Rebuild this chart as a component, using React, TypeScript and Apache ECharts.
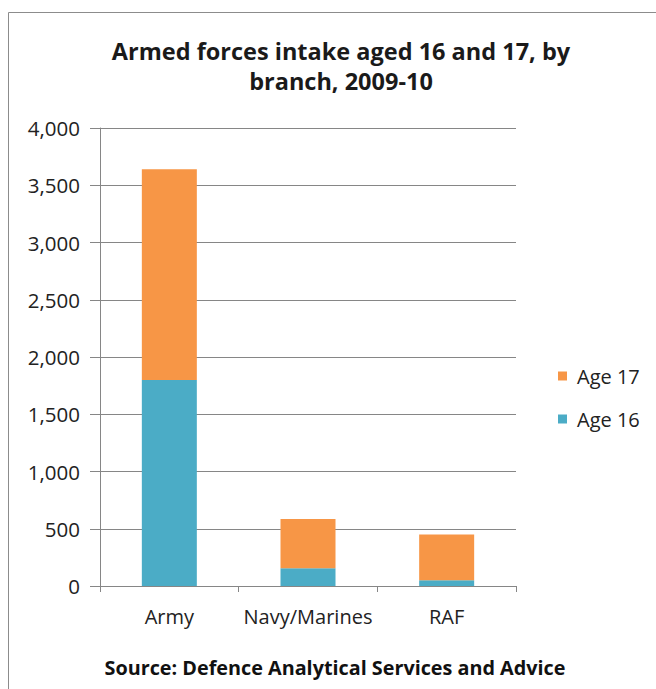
import React, { useEffect, useRef } from "react";
import * as echarts from "echarts";

const branches = ["Army", "Navy/Marines", "RAF"];
const age16 = [1800, 155, 50];
const age17 = [1840, 430, 400];
const yTicks = [0, 500, 1000, 1500, 2000, 2500, 3000, 3500, 4000];

const FONT = "'Open Sans', 'Noto Sans', sans-serif";

export default function App() {
  const ref = useRef<HTMLDivElement>(null);

  useEffect(() => {
    if (!ref.current) return;
    const chart = echarts.init(ref.current, null, { renderer: "svg" });
    chart.setOption({
      animation: false,
      backgroundColor: "#ffffff",
      textStyle: { fontFamily: FONT },
      title: {
        text: "Armed forces intake aged 16 and 17, by\nbranch, 2009-10",
        left: 336,
        top: 31,
        textAlign: "center",
        textStyle: {
          fontFamily: FONT,
          fontSize: 23.5,
          fontWeight: "bold",
          color: "#1a1a1a",
          lineHeight: 30,
        },
      },
      legend: {
        orient: "vertical",
        left: 553,
        top: 361,
        itemWidth: 9,
        itemHeight: 9,
        itemGap: 23,
        icon: "rect",
        data: ["Age 17", "Age 16"],
        textStyle: {
          fontFamily: FONT,
          fontSize: 20,
          lineHeight: 20,
          color: "#222",
          padding: [0, 0, 0, 5],
        },
      },
      grid: { left: 100, right: 140, top: 128, bottom: 103 },
      xAxis: {
        type: "category",
        data: branches,
        axisLine: { lineStyle: { color: "#868686", width: 1 } },
        axisTick: { show: true, length: 6, lineStyle: { color: "#868686" } },
        axisLabel: {
          fontFamily: FONT,
          fontSize: 20,
          color: "#222",
          margin: 20,
          interval: 0,
          hideOverlap: false,
        },
      },
      yAxis: {
        type: "value",
        min: yTicks[0],
        max: yTicks[yTicks.length - 1],
        interval: 500,
        axisLine: { show: true, lineStyle: { color: "#868686", width: 1 } },
        axisTick: { show: true, length: 10, lineStyle: { color: "#868686" } },
        splitLine: { lineStyle: { color: "#868686", width: 1 } },
        axisLabel: {
          fontFamily: FONT,
          fontSize: 20.5,
          color: "#222",
          margin: 20,
          formatter: (v: number) => v.toLocaleString("en-US"),
        },
      },
      series: [
        {
          name: "Age 16",
          type: "bar",
          stack: "total",
          data: age16,
          barWidth: 55,
          itemStyle: { color: "#4BACC6" },
        },
        {
          name: "Age 17",
          type: "bar",
          stack: "total",
          data: age17,
          barWidth: 55,
          itemStyle: { color: "#F79646" },
        },
      ],
      graphic: [
        {
          type: "rect",
          shape: { x: 8.5, y: 12.5, width: 700, height: 700 },
          style: { fill: "none", stroke: "#8c8c8c", lineWidth: 1 },
          silent: true,
        },
        {
          type: "text",
          x: 335,
          y: 667,
          style: {
            text: "Source: Defence Analytical Services and Advice",
            fontFamily: FONT,
            fontSize: 19.8,
            fontWeight: "bold",
            fill: "#111",
            textAlign: "center",
            textVerticalAlign: "middle",
          },
        },
      ],
    });
    return () => chart.dispose();
  }, []);

  return (
    <div
      ref={ref}
      style={{ position: "absolute", left: 0, top: 0, width: 656, height: 689 }}
    />
  );
}
